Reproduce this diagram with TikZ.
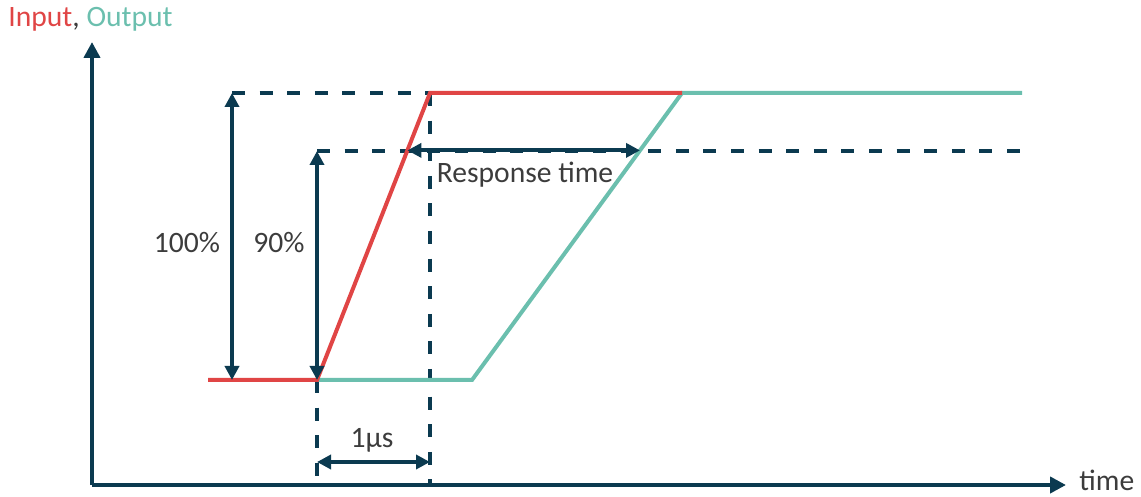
\documentclass[tikz,border=0pt]{standalone}
\usepackage{fontspec}
\setmainfont{Carlito}
\usetikzlibrary{arrows.meta,calc}

\definecolor{inRed}{HTML}{E04545}
\definecolor{outTeal}{HTML}{6BBFAE}
\definecolor{axisBlue}{HTML}{0B3A50}
\definecolor{textGray}{HTML}{3C3C3C}

\newcommand{\axisLineWidth}{2pt}
\newcommand{\signalLineWidth}{2pt}
\newcommand{\dashLineWidth}{2pt}
\newcommand{\lowY}{380}
\newcommand{\highY}{93}
\newcommand{\ninetyY}{151}
\newcommand{\axisY}{485}
\newcommand{\startX}{317}
\newcommand{\inTopX}{430}
\newcommand{\outStartX}{472}
\newcommand{\outTopX}{682}

\tikzset{
  axisline/.style={line width=\axisLineWidth, axisBlue, -{Triangle[length=8pt,width=8pt]}},
  inline/.style={line width=\signalLineWidth, inRed},
  outline/.style={line width=\signalLineWidth, outTeal},
  guideline/.style={line width=\dashLineWidth, axisBlue, dash pattern=on 6.5pt off 7.3pt},
  measure/.style={line width=\dashLineWidth, axisBlue, {Triangle[length=7pt,width=7pt]}-{Triangle[length=7pt,width=7pt]}},
  lbl/.style={text=textGray, font=\fontsize{14.8}{17}\selectfont, inner sep=0pt}
}

\begin{document}
\begin{tikzpicture}[x=0.5pt, y=-0.5pt]
        \useasboundingbox (0,0) rectangle (1141,497);

        % Key points
        \coordinate (origin) at (92,\axisY);
        \coordinate (ytip) at (92,42);
        \coordinate (xtip) at (1066,\axisY);
        \coordinate (inStart) at (208,\lowY);
        \coordinate (rise) at (\startX,\lowY);
        \coordinate (inTop) at (\inTopX,\highY);
        \coordinate (inEnd) at (\outTopX,\highY);
        \coordinate (outBend) at (\outStartX,\lowY);
        \coordinate (outTop) at (\outTopX,\highY);
        \coordinate (outEnd) at (1022,\highY);
        \coordinate (hundredTop) at (232,\highY);
        \coordinate (hundredLow) at (232,\lowY);
        \coordinate (ninetyTop) at (\startX,\ninetyY);
        \coordinate (ninetyEnd) at (1022,\ninetyY);
        \coordinate (riseBottom) at (\startX,\axisY);
        \coordinate (topBottom) at (\inTopX,\axisY);
        \coordinate (inNinety) at ($(rise)!0.8!(inTop)$);
        \coordinate (outNinety) at ($(outBend)!0.8!(outTop)$);
        \coordinate (usLeft) at (\startX,462);
        \coordinate (usRight) at (\inTopX,462);

        % Guide lines
        \draw [guideline] (hundredTop) -- (inTop);
        \draw [guideline] (ninetyTop) -- (ninetyEnd);
        \draw [guideline] (rise) -- (riseBottom);
        \draw [guideline] (inTop) -- (topBottom);

        % Output and input
        \draw [outline] (rise) -- (outBend) -- (outTop) -- (outEnd);
        \draw [inline] (inStart) -- (rise) -- (inTop) -- (inEnd);

        % Axes
        \draw [axisline] (origin) -- (ytip);
        \draw [axisline] (origin) -- (xtip);

        % Measures
        \draw [measure] (hundredLow) -- (hundredTop);
        \draw [measure] (rise) -- (ninetyTop);
        \draw [measure] (inNinety) -- (outNinety);
        \draw [measure] (usLeft) -- (usRight);

        % Labels
        \node[lbl, anchor=west] (axisname) at (8,19) {\textcolor{inRed}{Input}, \textcolor{outTeal}{Output}};
        \node[lbl] (hundredlbl) at (187,243) {100\%};
        \node[lbl] (ninetylbl) at (279,243) {90\%};
        \node[lbl] (resplbl) at (525,175) {Response time};
        \node[lbl] (uslbl) at (372,440) {1µs};
        \node[lbl, anchor=base west] (timelbl) at (1079,490) {time};
\end{tikzpicture}
\end{document}
